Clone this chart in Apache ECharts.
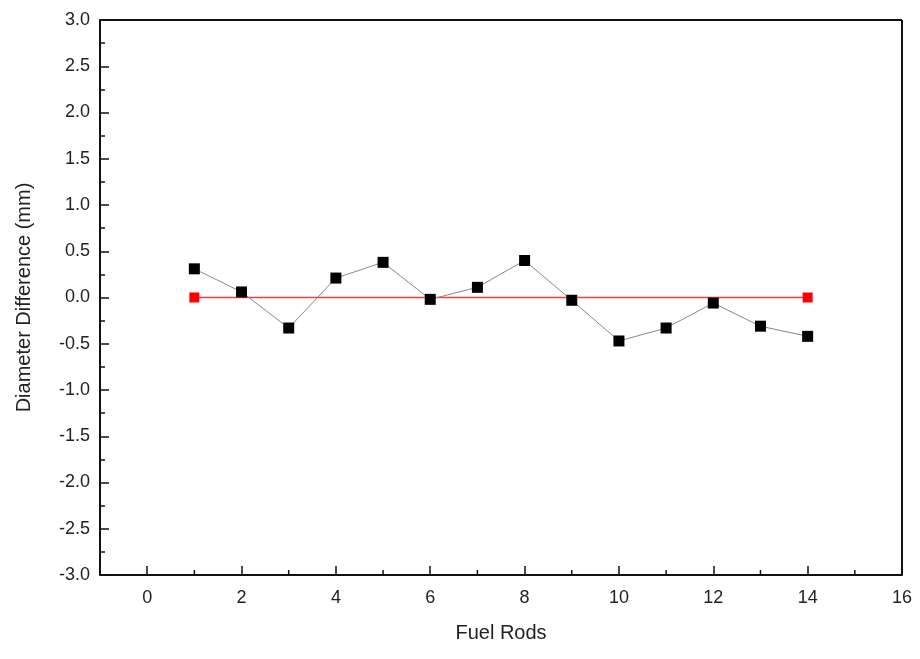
<!DOCTYPE html>
<html>
<head>
<meta charset="utf-8">
<script src="https://cdn.jsdelivr.net/npm/echarts@6/dist/echarts.min.js"></script>
<style>
html, body { margin: 0; padding: 0; background: #fff; }
#main { width: 920px; height: 659px; }
</style>
</head>
<body>
<div id="main"></div>
<script>
// 数据
var rods = [1, 2, 3, 4, 5, 6, 7, 8, 9, 10, 11, 12, 13, 14];
var diffs = [0.31, 0.06, -0.33, 0.21, 0.38, -0.02, 0.11, 0.40, -0.03, -0.47, -0.33, -0.06, -0.31, -0.42];
var refX = [1, 14];
var refY = [0, 0];

var chart = echarts.init(document.getElementById('main'));

var diffData = rods.map(function (r, i) { return [r, diffs[i]]; });
var refData = refX.map(function (r, i) { return [r, refY[i]]; });

var axisFont = { fontFamily: 'Liberation Sans', fontSize: 18, color: '#222' };

option = {
    backgroundColor: '#fff',
    animation: false,
    grid: { left: 100, right: 18, top: 20, bottom: 84, show: false },
    xAxis: {
        type: 'value',
        min: -1, max: 16, interval: 2,
        name: 'Fuel Rods',
        nameLocation: 'middle',
        nameGap: 48,
        nameTextStyle: { fontFamily: 'Liberation Sans', fontSize: 20, color: '#222' },
        axisLine: { show: true, onZero: false, lineStyle: { color: '#111', width: 2 } },
        axisTick: { show: true, inside: true, length: 9, lineStyle: { color: '#111', width: 1.5 },
            customValues: [0, 2, 4, 6, 8, 10, 12, 14, 16] },
        minorTick: { show: false },
        axisLabel: Object.assign({ margin: 14, customValues: [0, 2, 4, 6, 8, 10, 12, 14, 16] }, axisFont),
        splitLine: { show: false }
    },
    yAxis: {
        type: 'value',
        min: -3, max: 3, interval: 0.5,
        name: 'Diameter Difference (mm)',
        nameLocation: 'middle',
        nameGap: 66,
        nameTextStyle: { fontFamily: 'Liberation Sans', fontSize: 20, color: '#222' },
        axisLine: { show: true, onZero: false, lineStyle: { color: '#111', width: 2 } },
        axisTick: { show: true, inside: true, length: 9, lineStyle: { color: '#111', width: 1.5 } },
        minorTick: { show: true, splitNumber: 2, length: 5, lineStyle: { color: '#111', width: 1.5 } },
        axisLabel: Object.assign({ margin: 10, formatter: function (v) { return v.toFixed(1); } }, axisFont),
        splitLine: { show: false }
    },
    series: [
        {
            name: 'ref',
            type: 'line',
            data: refData,
            symbol: 'rect',
            symbolSize: 10,
            lineStyle: { color: '#ff3b3b', width: 1.5 },
            itemStyle: { color: '#ff0000' },
            z: 2
        },
        {
            name: 'diff',
            type: 'line',
            data: diffData,
            symbol: 'rect',
            symbolSize: 11,
            lineStyle: { color: '#888', width: 1 },
            itemStyle: { color: '#000' },
            z: 3
        },
        {
            // 右侧和顶部边框 + 次刻度
            type: 'line',
            data: [],
            markLine: {
                silent: true,
                symbol: 'none',
                label: { show: false },
                lineStyle: { color: '#111', width: 2, type: 'solid' },
                data: [
                    [{ coord: [16, -3] }, { coord: [16, 3] }],
                    [{ coord: [-1, 3] }, { coord: [16, 3] }]
                ]
            }
        }
    ]
};

chart.setOption(option);

// x轴次刻度(奇数位置)
var minor = [];
for (var k = -1; k <= 15; k += 2) minor.push(k);
var g = [];
minor.forEach(function (v) {
    var p = chart.convertToPixel({ gridIndex: 0 }, [v, -3]);
    g.push({ type: 'line', shape: { x1: p[0], y1: p[1], x2: p[0], y2: p[1] - 5 }, style: { stroke: '#111', lineWidth: 1.5 } });
});
chart.setOption({ graphic: g });
</script>
</body>
</html>
